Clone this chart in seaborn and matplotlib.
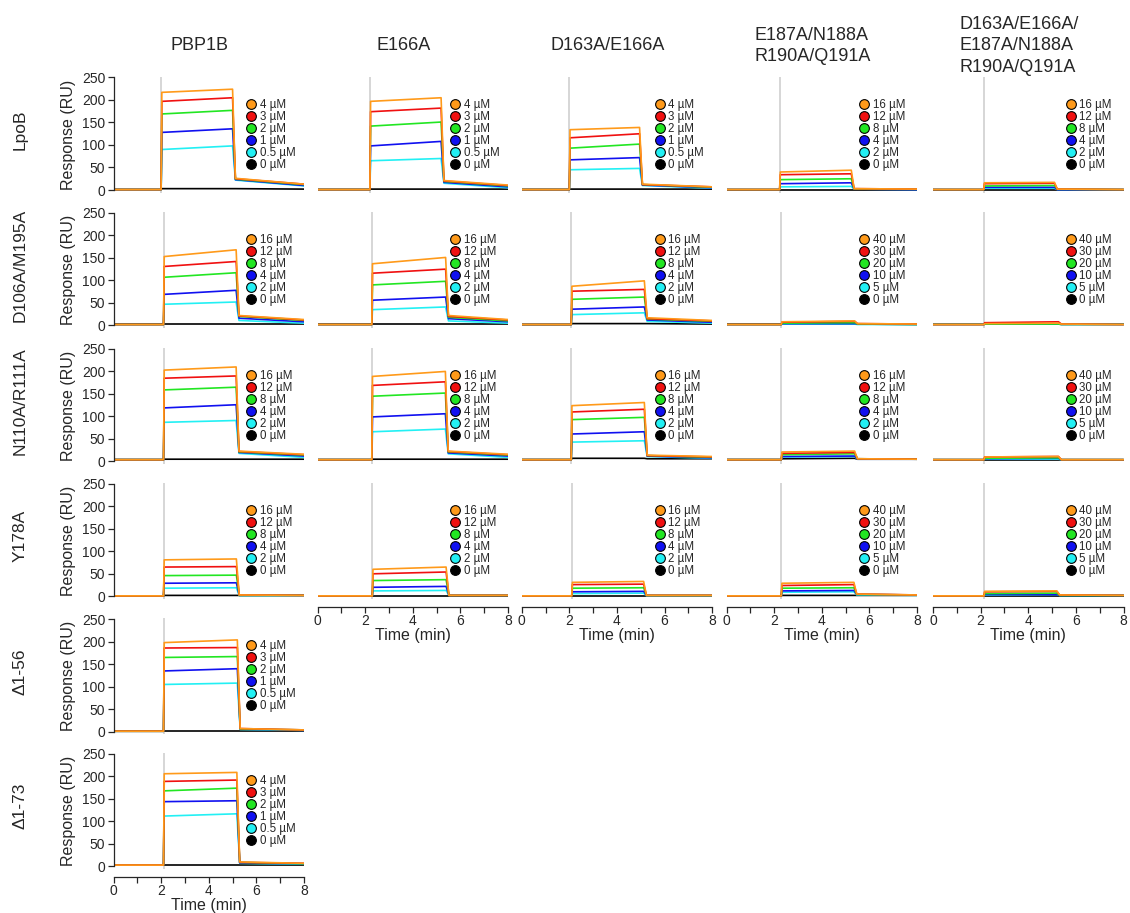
import matplotlib
matplotlib.use("Agg")
import matplotlib.pyplot as plt
from matplotlib.lines import Line2D
import pandas as pd
import seaborn as sns

sns.set_style("ticks")
plt.rcParams["font.family"] = ["Liberation Sans", "DejaVu Sans"]

# PBP1B variants (columns) and LpoB variants (rows)
proteins = ["PBP1B", "E166A", "D163A/E166A",
            "E187A/N188A\nR190A/Q191A",
            "D163A/E166A/\nE187A/N188A\nR190A/Q191A"]
partners = ["LpoB", "D106A/M195A", "N110A/R111A", "Y178A", "Δ1-56", "Δ1-73"]

# LpoB concentration series (legend order, highest first)
conc_low = ["4 µM", "3 µM", "2 µM", "1 µM", "0.5 µM", "0 µM"]
conc_mid = ["16 µM", "12 µM", "8 µM", "4 µM", "2 µM", "0 µM"]
conc_high = ["40 µM", "30 µM", "20 µM", "10 µM", "5 µM", "0 µM"]

panel_conc = [
    [conc_low, conc_low, conc_low, conc_mid, conc_mid],
    [conc_mid, conc_mid, conc_mid, conc_high, conc_high],
    [conc_mid, conc_mid, conc_mid, conc_mid, conc_high],
    [conc_mid, conc_mid, conc_mid, conc_high, conc_high],
    [conc_low],
    [conc_low],
]

# injection start / stop (min) for each panel
inject_on = [
    [2.0, 2.2, 2.0, 2.23, 2.13],
    [2.1, 2.28, 2.08, 2.3, 2.14],
    [2.1, 2.28, 2.08, 2.3, 2.14],
    [2.1, 2.3, 2.1, 2.3, 2.14],
    [2.1],
    [2.1],
]
inject_off = [
    [5.0, 5.19, 4.95, 5.24, 5.1],
    [5.15, 5.38, 5.15, 5.38, 5.27],
    [5.15, 5.37, 5.15, 5.38, 5.27],
    [5.16, 5.4, 5.12, 5.35, 5.2],
    [5.2],
    [5.18],
]

# pre-injection baseline (RU) per row
baseline = [1, 2, 3, 1, 1, 2]

# Response (RU): start and end of association, start and end of dissociation
lpob_assoc_start = [[217, 197, 169, 128, 90, 3], [197, 174, 142, 98, 65, 2],
                    [134, 116, 93, 67, 45, 2], [40, 34, 23, 14, 7, 1],
                    [16, 14, 9, 6, 4, 1]]
lpob_assoc_end = [[224, 205, 177, 136, 98, 3], [205, 182, 151, 108, 70, 2],
                  [139, 125, 102, 72, 48, 2], [44, 36, 25, 16, 8, 1],
                  [17, 15, 10, 6, 4, 1]]
lpob_dissoc_start = [[26, 25, 24, 23, 22, 3], [21, 20, 19, 17, 15, 2],
                     [13, 12, 12, 11, 10, 2], [3, 3, 2, 2, 2, 1],
                     [2, 2, 2, 1, 1, 1]]
lpob_dissoc_end = [[13, 13, 12, 10, 9, 2], [11, 10, 9, 7, 5, 2],
                   [7, 7, 6, 5, 4, 2], [2, 2, 2, 1, 1, 1],
                   [1, 1, 1, 1, 1, 1]]

d106a_assoc_start = [[153, 131, 107, 69, 47, 2], [137, 116, 90, 56, 35, 2],
                     [87, 76, 58, 36, 24, 4], [8, 7, 5, 4, 3, 2],
                     [4, 6, 3, 3, 2, 2]]
d106a_assoc_end = [[168, 142, 117, 78, 52, 2], [151, 125, 98, 63, 41, 2],
                   [99, 80, 63, 41, 28, 4], [10, 9, 6, 4, 3, 2],
                   [5, 8, 3, 3, 2, 2]]
d106a_dissoc_start = [[22, 21, 20, 16, 11, 2], [22, 20, 18, 15, 10, 2],
                      [17, 15, 14, 12, 9, 4], [4, 4, 3, 3, 2, 2],
                      [3, 3, 2, 2, 2, 2]]
d106a_dissoc_end = [[13, 12, 11, 8, 5, 2], [13, 12, 10, 8, 5, 2],
                    [11, 10, 9, 7, 5, 3], [3, 3, 2, 2, 2, 2],
                    [2, 2, 2, 2, 2, 2]]

n110a_assoc_start = [[202, 184, 158, 118, 86, 4], [188, 168, 144, 98, 65, 4],
                     [123, 109, 92, 60, 42, 6], [20, 17, 14, 10, 9, 5],
                     [9, 9, 6, 5, 4, 3]]
n110a_assoc_end = [[209, 189, 164, 125, 90, 4], [199, 176, 151, 105, 71, 4],
                   [130, 115, 97, 65, 45, 6], [22, 19, 16, 11, 10, 6],
                   [10, 10, 7, 6, 4, 3]]
n110a_dissoc_start = [[22, 21, 20, 19, 17, 4], [22, 21, 20, 18, 16, 4],
                      [13, 12, 12, 11, 10, 5], [5, 5, 5, 4, 4, 4],
                      [3, 3, 3, 3, 3, 3]]
n110a_dissoc_end = [[15, 14, 13, 11, 8, 4], [15, 14, 13, 11, 8, 4],
                    [10, 9, 8, 7, 6, 5], [4, 4, 4, 4, 4, 4],
                    [3, 3, 3, 3, 3, 3]]

y178a_assoc_start = [[81, 65, 46, 29, 18, 2], [60, 50, 35, 20, 12, 1],
                     [31, 26, 18, 10, 6, 1], [29, 24, 18, 12, 9, 2],
                     [11, 10, 6, 4, 3, 1]]
y178a_assoc_end = [[83, 66, 47, 30, 19, 2], [65, 54, 37, 22, 13, 1],
                   [33, 27, 19, 11, 7, 1], [31, 26, 19, 13, 10, 2],
                   [12, 11, 7, 4, 4, 1]]
y178a_dissoc_start = [[3, 3, 2, 2, 2, 2], [2, 2, 2, 2, 2, 1],
                      [2, 2, 2, 2, 1, 1], [5, 5, 4, 4, 3, 2],
                      [3, 3, 2, 2, 2, 1]]
y178a_dissoc_end = [[2, 2, 2, 2, 2, 2], [2, 2, 2, 2, 2, 1],
                    [2, 2, 2, 2, 1, 1], [3, 3, 3, 3, 2, 2],
                    [2, 2, 2, 2, 2, 1]]

d1_56_assoc_start = [[198, 186, 165, 135, 105, 1]]
d1_56_assoc_end = [[204, 187, 167, 140, 108, 1]]
d1_56_dissoc_start = [[7, 7, 6, 6, 5, 1]]
d1_56_dissoc_end = [[4, 4, 4, 3, 3, 1]]

d1_73_assoc_start = [[205, 188, 167, 143, 111, 2]]
d1_73_assoc_end = [[208, 191, 173, 145, 116, 2]]
d1_73_dissoc_start = [[9, 8, 8, 7, 6, 2]]
d1_73_dissoc_end = [[6, 6, 5, 5, 4, 2]]

assoc_start = [lpob_assoc_start, d106a_assoc_start, n110a_assoc_start,
               y178a_assoc_start, d1_56_assoc_start, d1_73_assoc_start]
assoc_end = [lpob_assoc_end, d106a_assoc_end, n110a_assoc_end,
             y178a_assoc_end, d1_56_assoc_end, d1_73_assoc_end]
dissoc_start = [lpob_dissoc_start, d106a_dissoc_start, n110a_dissoc_start,
                y178a_dissoc_start, d1_56_dissoc_start, d1_73_dissoc_start]
dissoc_end = [lpob_dissoc_end, d106a_dissoc_end, n110a_dissoc_end,
              y178a_dissoc_end, d1_56_dissoc_end, d1_73_dissoc_end]

series_colors = ["#FF9A1A", "#F01010", "#22E622", "#1010F0", "#22F0F4", "#000000"]
run_end = 8.0

# ---- layout (pixel geometry of the 1130 x 913 canvas) ----
W, H = 1130, 913
col_left = [113.5, 317.5, 521.7, 726.5, 933.0]
col_width = 190.5
row_zero = [190.0, 325.4, 461.0, 596.3, 731.7, 866.0]
px_per_ru = 0.45
y_lo, y_hi = -6, 252

fig = plt.figure(figsize=(W / 100, H / 100), dpi=100)


def make_frame(r, c, labels):
    recs = []
    t_on = inject_on[r][c]
    t_off = inject_off[r][c]
    b = baseline[r]
    ts = [0.0, t_on, t_on + 0.03, t_off, t_off + 0.12, run_end]
    for i, lab in enumerate(labels):
        ys = [b, b, assoc_start[r][c][i], assoc_end[r][c][i],
              dissoc_start[r][c][i], dissoc_end[r][c][i]]
        for t, y in zip(ts, ys):
            recs.append({"time": t, "response": y, "conc": lab})
    return pd.DataFrame(recs)


n_cols_row = [len(p) for p in panel_conc]
bottom_of_col = {}
for r, n in enumerate(n_cols_row):
    for c in range(n):
        bottom_of_col[c] = r

for r, row_panels in enumerate(panel_conc):
    for c, labels in enumerate(row_panels):
        zero = row_zero[r]
        top_px = zero - y_hi * px_per_ru
        bot_px = zero - y_lo * px_per_ru
        ax = fig.add_axes([col_left[c] / W, 1 - bot_px / H,
                           col_width / W, (bot_px - top_px) / H])
        df = make_frame(r, c, labels)
        palette = dict(zip(labels, series_colors))
        draw_order = labels[::-1]  # zero concentration first, highest on top
        ax.axvline(inject_on[r][c], color="#cfcfcf", lw=1.2, zorder=0)
        sns.lineplot(data=df, x="time", y="response", hue="conc",
                     hue_order=draw_order, palette=palette, estimator=None,
                     sort=False, legend=False, lw=1.2, ax=ax)
        ax.set_xlim(0, run_end)
        ax.set_ylim(y_lo, y_hi)
        ax.set_xlabel("")
        ax.set_ylabel("")
        for s in ("top", "right"):
            ax.spines[s].set_visible(False)

        if c == 0:
            ax.set_yticks(range(0, 251, 50))
            ax.spines["left"].set_bounds(0, 250)
            ax.tick_params(axis="y", direction="out", length=4, width=0.9,
                           labelsize=10, pad=2)
            ax.set_ylabel("Response (RU)", fontsize=11.5, labelpad=4)
            ax.spines["left"].set_linewidth(0.9)
        else:
            ax.spines["left"].set_visible(False)
            ax.set_yticks([])

        if bottom_of_col[c] == r:
            ax.spines["bottom"].set_position(("outward", 6))
            ax.spines["bottom"].set_bounds(0, 8)
            ax.spines["bottom"].set_linewidth(0.9)
            ax.set_xticks([0, 2, 4, 6, 8])
            ax.set_xticks([1, 3, 5, 7], minor=True)
            ax.tick_params(axis="x", which="both", direction="out", length=4,
                           width=0.9, labelsize=10, pad=1)
            ax.set_xlabel("Time (min)", fontsize=11.5, labelpad=0)
        else:
            ax.spines["bottom"].set_visible(False)
            ax.set_xticks([])

        handles = [Line2D([], [], ls="", marker="o", markersize=7,
                          markerfacecolor=col, markeredgecolor="black",
                          markeredgewidth=0.8) for col in series_colors]
        ax.legend(handles, labels, loc="upper left",
                  bbox_to_anchor=(0.70, 0.81), frameon=False, fontsize=8.3,
                  handlelength=0.8, handletextpad=0.3, labelspacing=0.0,
                  borderpad=0, borderaxespad=0)

# column headings
for c, name in enumerate(proteins):
    cx = col_left[c] + col_width / 2 - 9
    fig.text(cx / W, 1 - 46 / H, name, ha="center", va="center",
             multialignment="left", fontsize=13, linespacing=1.35)

# row headings
for r, name in enumerate(partners):
    cy = row_zero[r] - 60
    fig.text(20 / W, 1 - cy / H, name, ha="center", va="center",
             rotation=90, fontsize=12.5)

fig.savefig("out.png", dpi=100)
